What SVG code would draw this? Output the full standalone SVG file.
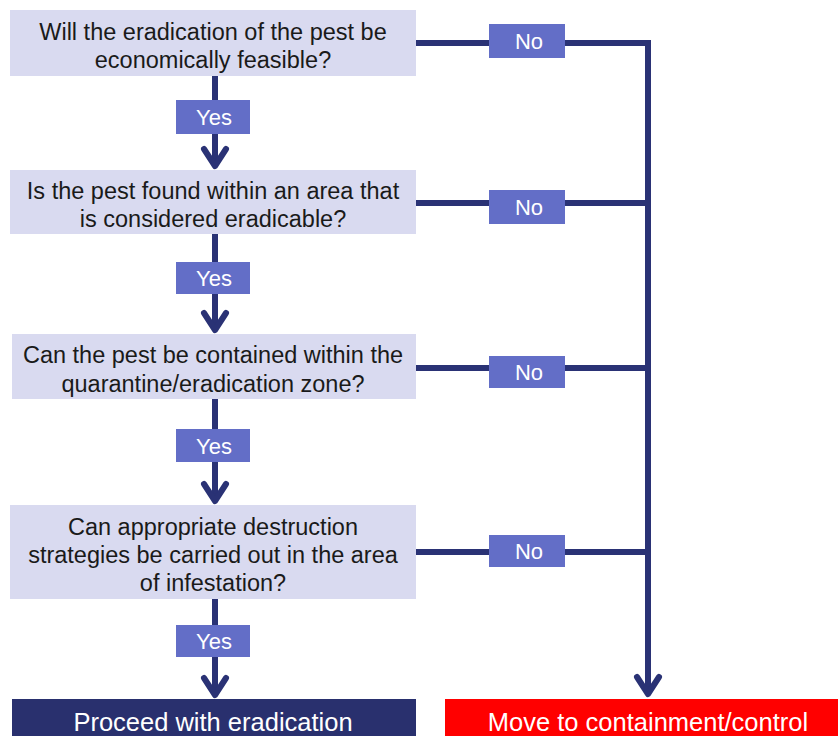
<svg xmlns="http://www.w3.org/2000/svg" width="838" height="736" viewBox="0 0 838 736">
<style>
.q{fill:#d9daf0}
.qt{font-family:"Liberation Sans",Arial,sans-serif;font-size:23.5px;fill:#1a1a1a;text-anchor:middle}
.lab{fill:#636ec7}
.lt{font-family:"Liberation Sans",Arial,sans-serif;font-size:22px;fill:#fff;text-anchor:middle}
.ln{fill:none;stroke:#2a3275;stroke-width:6}
.ah{fill:none;stroke:#2a3275;stroke-width:6;stroke-linecap:round;stroke-linejoin:round}
.ft{font-family:"Liberation Sans",Arial,sans-serif;font-size:25.5px;fill:#fff;text-anchor:middle}
</style>
<rect width="838" height="736" fill="#fff"/>
<g id="connectors">
<line class="ln" x1="215" y1="76" x2="215" y2="166"/>
<polyline class="ah" points="204,149 215,166 226,149"/>
<line class="ln" x1="215" y1="234" x2="215" y2="330"/>
<polyline class="ah" points="204,313 215,330 226,313"/>
<line class="ln" x1="215" y1="399" x2="215" y2="501"/>
<polyline class="ah" points="204,484 215,501 226,484"/>
<line class="ln" x1="215" y1="599" x2="215" y2="695"/>
<polyline class="ah" points="204,678 215,695 226,678"/>
<path class="ln" d="M416 43 H648 V694"/>
<line class="ln" x1="416" y1="203" x2="648" y2="203"/>
<line class="ln" x1="416" y1="368" x2="648" y2="368"/>
<line class="ln" x1="416" y1="552" x2="648" y2="552"/>
<polyline class="ah" points="637,677 648,694 659,677"/>
</g>
<g id="q1"><rect class="q" x="10" y="10" width="406" height="66"/><text class="qt" x="213" y="40">Will the eradication of the pest be</text><text class="qt" x="213" y="68">economically feasible?</text></g>
<g id="q2"><rect class="q" x="10" y="170" width="406" height="64"/><text class="qt" x="213" y="199">Is the pest found within an area that</text><text class="qt" x="213" y="227">is considered eradicable?</text></g>
<g id="q3"><rect class="q" x="12" y="334" width="404" height="65"/><text class="qt" x="213" y="363">Can the pest be contained within the</text><text class="qt" x="213" y="392">quarantine/eradication zone?</text></g>
<g id="q4"><rect class="q" x="10" y="505" width="406" height="94"/><text class="qt" x="213" y="535">Can appropriate destruction</text><text class="qt" x="213" y="563">strategies be carried out in the area</text><text class="qt" x="213" y="591">of infestation?</text></g>
<g id="yes1"><rect class="lab" x="176" y="100" width="74" height="34"/><text class="lt" x="214" y="124.5">Yes</text></g>
<g id="yes2"><rect class="lab" x="176" y="262" width="74" height="32"/><text class="lt" x="214" y="285.5">Yes</text></g>
<g id="yes3"><rect class="lab" x="176" y="429" width="74" height="33"/><text class="lt" x="214" y="453.5">Yes</text></g>
<g id="yes4"><rect class="lab" x="176" y="625" width="74" height="32"/><text class="lt" x="214" y="648.5">Yes</text></g>
<g id="no1"><rect class="lab" x="489" y="24" width="76" height="34"/><text class="lt" x="529" y="48.5">No</text></g>
<g id="no2"><rect class="lab" x="489" y="190" width="76" height="34"/><text class="lt" x="529" y="214.5">No</text></g>
<g id="no3"><rect class="lab" x="489" y="356" width="76" height="32"/><text class="lt" x="529" y="379.5">No</text></g>
<g id="no4"><rect class="lab" x="489" y="535" width="76" height="32"/><text class="lt" x="529" y="558.5">No</text></g>
<g id="proceed"><rect x="12" y="699" width="404" height="40" fill="#29306e"/><text class="ft" x="213" y="731">Proceed with eradication</text></g>
<g id="move"><rect x="445" y="699" width="393" height="40" fill="#ff0000"/><text class="ft" x="648" y="731">Move to containment/control</text></g>
</svg>
